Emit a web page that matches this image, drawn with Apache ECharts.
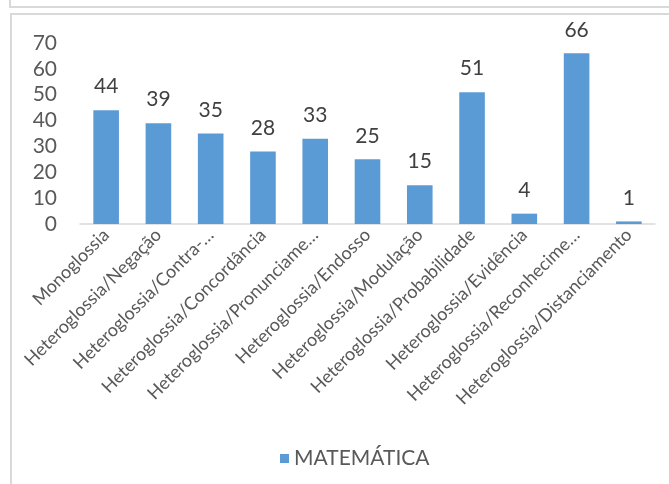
<!DOCTYPE html>
<html>
<head>
<meta charset="utf-8">
<script src="https://cdn.jsdelivr.net/npm/echarts@6/dist/echarts.min.js"></script>
<style>
  html, body { margin: 0; padding: 0; background: #fff; }
  #chart { width: 669px; height: 484px; }
</style>
</head>
<body>
<div id="chart"></div>
<script>
// Categories of engagement resources and their counts
const categories = [
  'Monoglossia',
  'Heteroglossia/Negação',
  'Heteroglossia/Contra-…',
  'Heteroglossia/Concordância',
  'Heteroglossia/Pronunciame…',
  'Heteroglossia/Endosso',
  'Heteroglossia/Modulação',
  'Heteroglossia/Probabilidade',
  'Heteroglossia/Evidência',
  'Heteroglossia/Reconhecime…',
  'Heteroglossia/Distanciamento'
];
const seriesName = 'MATEMÁTICA';
const values = [44, 39, 35, 28, 33, 25, 15, 51, 4, 66, 1];
const yTicks = { min: 0, max: 70, interval: 10 };

const font = 'Lato, "Liberation Sans", sans-serif';
const textColor = '#595959';
const chart = echarts.init(document.getElementById('chart'), null, { renderer: 'canvas' });

chart.setOption({
  animation: false,
  backgroundColor: '#ffffff',
  graphic: [
    // frame of the panel above
    { type: 'rect', shape: { x: 10, y: -20, width: 700, height: 27 },
      style: { fill: 'none', stroke: '#d9d9d9', lineWidth: 2 } },
    // chart frame
    { type: 'rect', shape: { x: 11, y: 14, width: 700, height: 500 },
      style: { fill: 'none', stroke: '#d9d9d9', lineWidth: 2 } }
  ],
  grid: { left: 80, right: 14, top: 43, bottom: 260, containLabel: false },
  legend: {
    data: [seriesName],
    left: 275, top: 443,
    itemWidth: 9, itemHeight: 9, itemGap: 9,
    icon: 'rect',
    textStyle: { fontFamily: font, fontSize: 21, color: textColor }
  },
  xAxis: {
    type: 'category',
    data: categories,
    axisLine: { show: true, lineStyle: { color: '#d9d9d9', width: 1.5 } },
    axisTick: { show: false },
    axisLabel: {
      interval: 0, rotate: 45, margin: 8,
      fontFamily: font, fontSize: 18, color: textColor
    }
  },
  yAxis: {
    type: 'value',
    min: yTicks.min, max: yTicks.max, interval: yTicks.interval,
    axisLine: { show: false },
    axisTick: { show: false },
    splitLine: { show: false },
    axisLabel: { margin: 23, fontFamily: font, fontSize: 21, color: textColor }
  },
  series: [{
    name: seriesName,
    type: 'bar',
    data: values,
    barWidth: '49%',
    itemStyle: { color: '#5b9bd5' },
    label: {
      show: true, position: 'top', distance: 13,
      fontFamily: font, fontSize: 21, color: '#404040'
    }
  }]
});
</script>
</body>
</html>
